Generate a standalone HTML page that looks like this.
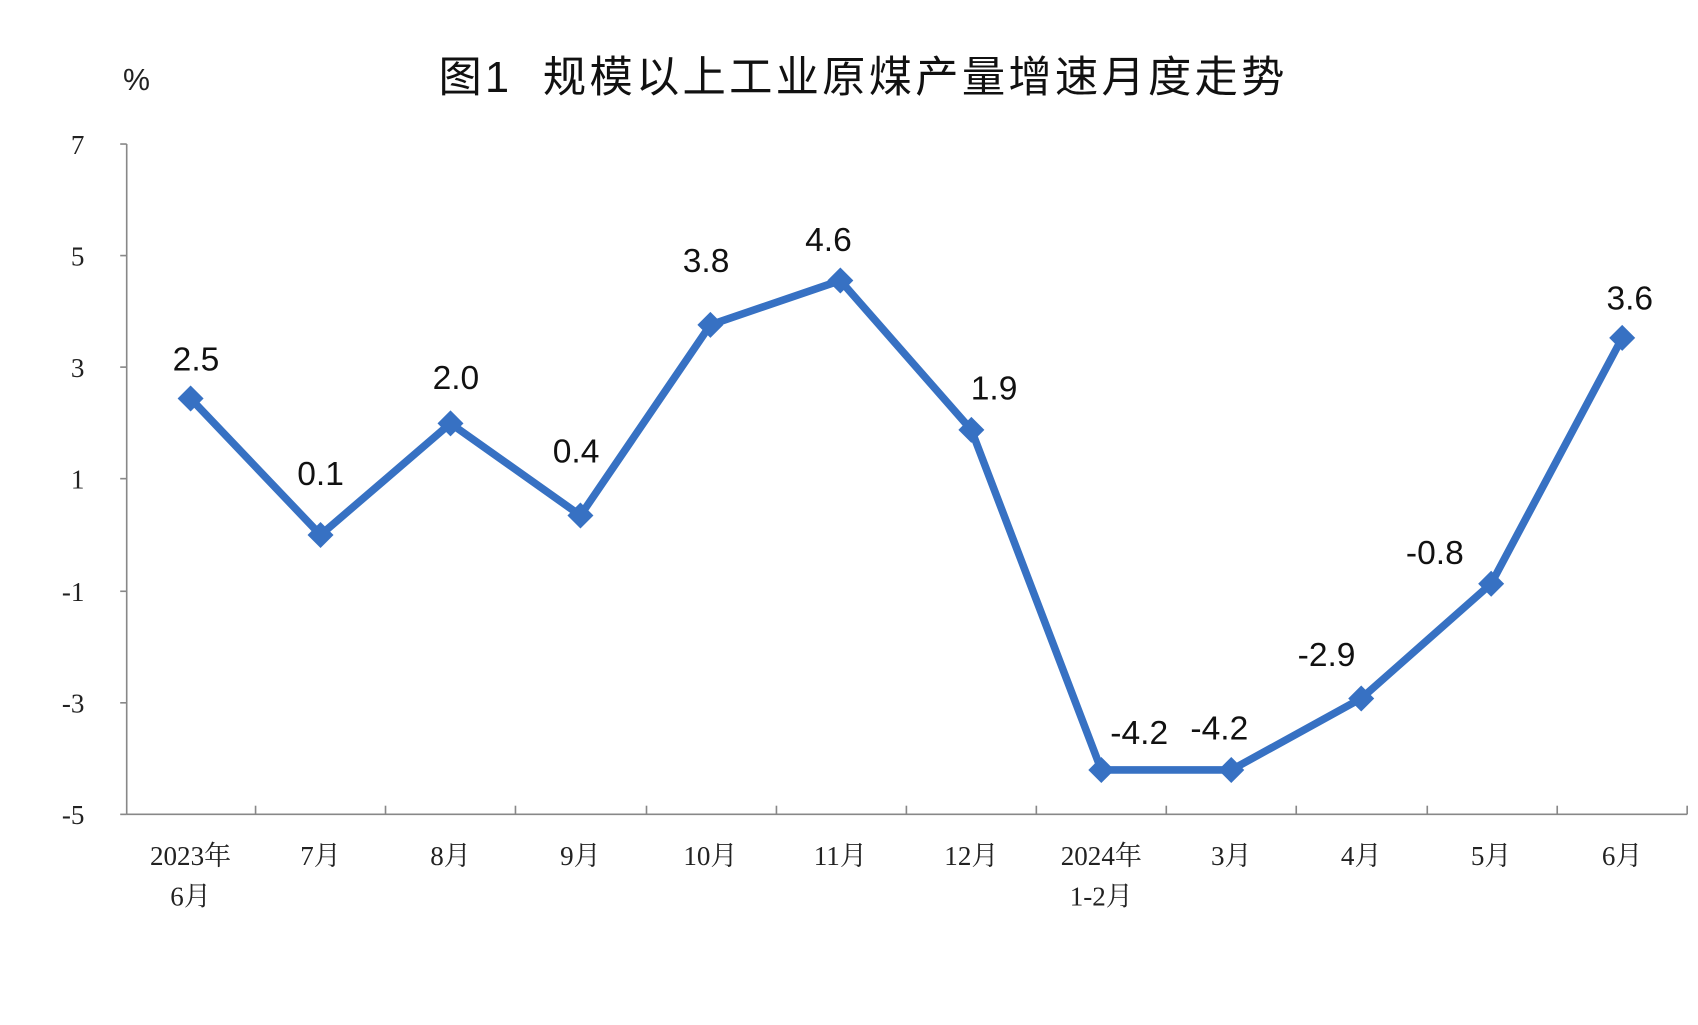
<!DOCTYPE html>
<html><head><meta charset="utf-8"><style>
html,body{margin:0;padding:0;background:#fff;}
svg{display:block;}
.t{font-family:"Liberation Serif","Noto Serif CJK SC","Noto Sans CJK SC",serif;font-size:25px;fill:#222;}
.d{font-family:"Liberation Sans",sans-serif;font-size:31px;fill:#111;text-anchor:middle;}
</style></head><body>
<svg width="1698" height="1025" viewBox="0 0 1568 946.5" xmlns="http://www.w3.org/2000/svg">
<text x="126" y="83" style="font-family:'Liberation Sans',sans-serif;font-size:28px;fill:#222" text-anchor="middle">%</text>
<text x="797" y="85" style="font-family:'Liberation Sans','Noto Sans CJK SC',sans-serif;font-size:40px;fill:#111;letter-spacing:3px" text-anchor="middle" xml:space="preserve">图1  规模以上工业原煤产量增速月度走势</text>
<g stroke="#888" stroke-width="1.5" fill="none">
<line x1="117" y1="133" x2="117" y2="752"/>
<line x1="117" y1="752" x2="1558" y2="752"/>
<line x1="111" y1="133" x2="117" y2="133"/><line x1="111" y1="236" x2="117" y2="236"/><line x1="111" y1="339" x2="117" y2="339"/><line x1="111" y1="442" x2="117" y2="442"/><line x1="111" y1="546" x2="117" y2="546"/><line x1="111" y1="649" x2="117" y2="649"/><line x1="111" y1="752" x2="117" y2="752"/>
<line x1="236" y1="744" x2="236" y2="752"/><line x1="356" y1="744" x2="356" y2="752"/><line x1="476" y1="744" x2="476" y2="752"/><line x1="597" y1="744" x2="597" y2="752"/><line x1="717" y1="744" x2="717" y2="752"/><line x1="837" y1="744" x2="837" y2="752"/><line x1="957" y1="744" x2="957" y2="752"/><line x1="1077" y1="744" x2="1077" y2="752"/><line x1="1197" y1="744" x2="1197" y2="752"/><line x1="1318" y1="744" x2="1318" y2="752"/><line x1="1438" y1="744" x2="1438" y2="752"/><line x1="1558" y1="744" x2="1558" y2="752"/>
</g>
<g class="t" text-anchor="end">
<text x="78" y="142">7</text><text x="78" y="245">5</text><text x="78" y="348">3</text><text x="78" y="451">1</text><text x="78" y="555">-1</text><text x="78" y="658">-3</text><text x="78" y="761">-5</text>
</g>
<g class="t" text-anchor="middle">
<text x="176" y="799">2023年</text><text x="176" y="836">6月</text>
<text x="296" y="799">7月</text><text x="416" y="799">8月</text><text x="536" y="799">9月</text>
<text x="656" y="799">10月</text><text x="776" y="799">11月</text><text x="897" y="799">12月</text>
<text x="1017" y="799">2024年</text><text x="1017" y="836">1-2月</text>
<text x="1137" y="799">3月</text><text x="1257" y="799">4月</text><text x="1377" y="799">5月</text><text x="1498" y="799">6月</text>
</g>
<polyline fill="none" stroke="#3771c3" stroke-width="7" stroke-linejoin="round" points="176,368 296,494 416,391 536,476 656,300 776,259 897,397 1017,711 1137,711 1257,645 1377,539 1498,312"/>
<g fill="#3771c3">
<path d="M176,356 l12,12 l-12,12 l-12,-12z"/><path d="M296,482 l12,12 l-12,12 l-12,-12z"/><path d="M416,379 l12,12 l-12,12 l-12,-12z"/><path d="M536,464 l12,12 l-12,12 l-12,-12z"/><path d="M656,288 l12,12 l-12,12 l-12,-12z"/><path d="M776,247 l12,12 l-12,12 l-12,-12z"/><path d="M897,385 l12,12 l-12,12 l-12,-12z"/><path d="M1017,699 l12,12 l-12,12 l-12,-12z"/><path d="M1137,699 l12,12 l-12,12 l-12,-12z"/><path d="M1257,633 l12,12 l-12,12 l-12,-12z"/><path d="M1377,527 l12,12 l-12,12 l-12,-12z"/><path d="M1498,300 l12,12 l-12,12 l-12,-12z"/>
</g>
<g class="d">
<text x="181" y="342">2.5</text><text x="296" y="448">0.1</text><text x="421" y="359">2.0</text><text x="532" y="427">0.4</text><text x="652" y="251">3.8</text><text x="765" y="232">4.6</text><text x="918" y="369">1.9</text><text x="1052" y="687">-4.2</text><text x="1126" y="683">-4.2</text><text x="1225" y="615">-2.9</text><text x="1325" y="521">-0.8</text><text x="1505" y="286">3.6</text>
</g>
</svg>
</body></html>
